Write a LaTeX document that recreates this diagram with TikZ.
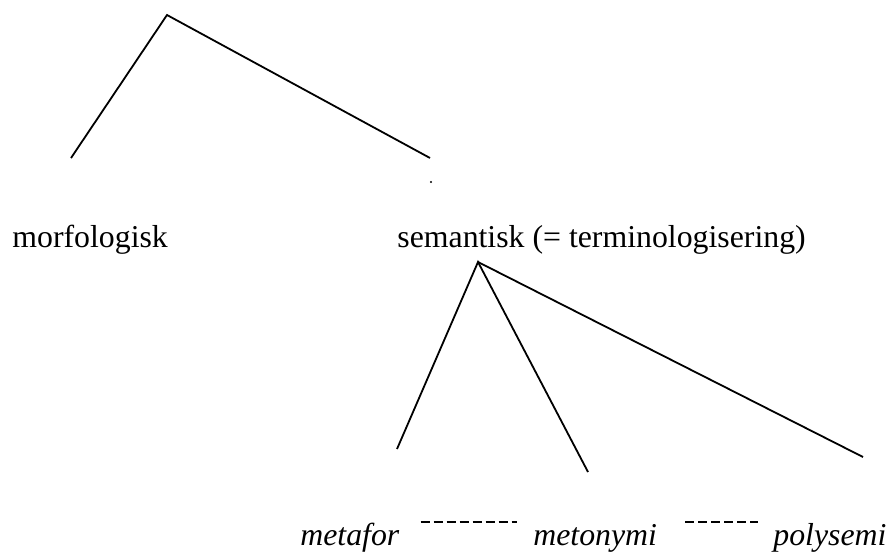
\documentclass[tikz,border=0pt]{standalone}
\usepackage{fontspec}
\setmainfont{Liberation Serif}
\usetikzlibrary{calc}
\begin{document}
\begin{tikzpicture}[x=0.5pt,y=-0.5pt,
  branch/.style={line width=0.9pt},
  lbl/.style={anchor=base west,inner sep=0pt,font=\fontsize{15.9}{19}\selectfont},
  rel/.style={line width=0.9pt,dash pattern=on 4.5pt off 2pt}]
  \useasboundingbox (0,0) rectangle (887,551);
  \coordinate (top) at (167,15);
  \coordinate (tl) at (71,158);
  \coordinate (tr) at (430,158);
  \coordinate (dot) at (431,182);
  \node[lbl] (morf) at (12,247) {morfologisk};
  \node[lbl] (sem) at (397,247) {semantisk (= terminologisering)};
  \coordinate (sub) at (478,262);
  \coordinate (bl) at (397,449);
  \coordinate (bm) at (588,472);
  \coordinate (br) at (863,457);
  \node[lbl] (meta) at (300,545) {\itshape metafor};
  \node[lbl] (meto) at (533,545) {\itshape metonymi};
  \node[lbl] (poly) at (773,545) {\itshape polysemi};
  \draw[branch] (tl) -- (top) -- (tr);
  \fill (dot) circle (1.1);
  \draw[branch] (bl) -- (sub) -- (bm);
  \draw[branch] (sub) -- (br);
  \draw[rel] ([shift={(21,-23)}]meta.base east) -- ([shift={(-16,-23)}]meto.base west);
  \draw[rel] ([shift={(28,-23)}]meto.base east) -- ([shift={(-15,-23)}]poly.base west);
\end{tikzpicture}
\end{document}
